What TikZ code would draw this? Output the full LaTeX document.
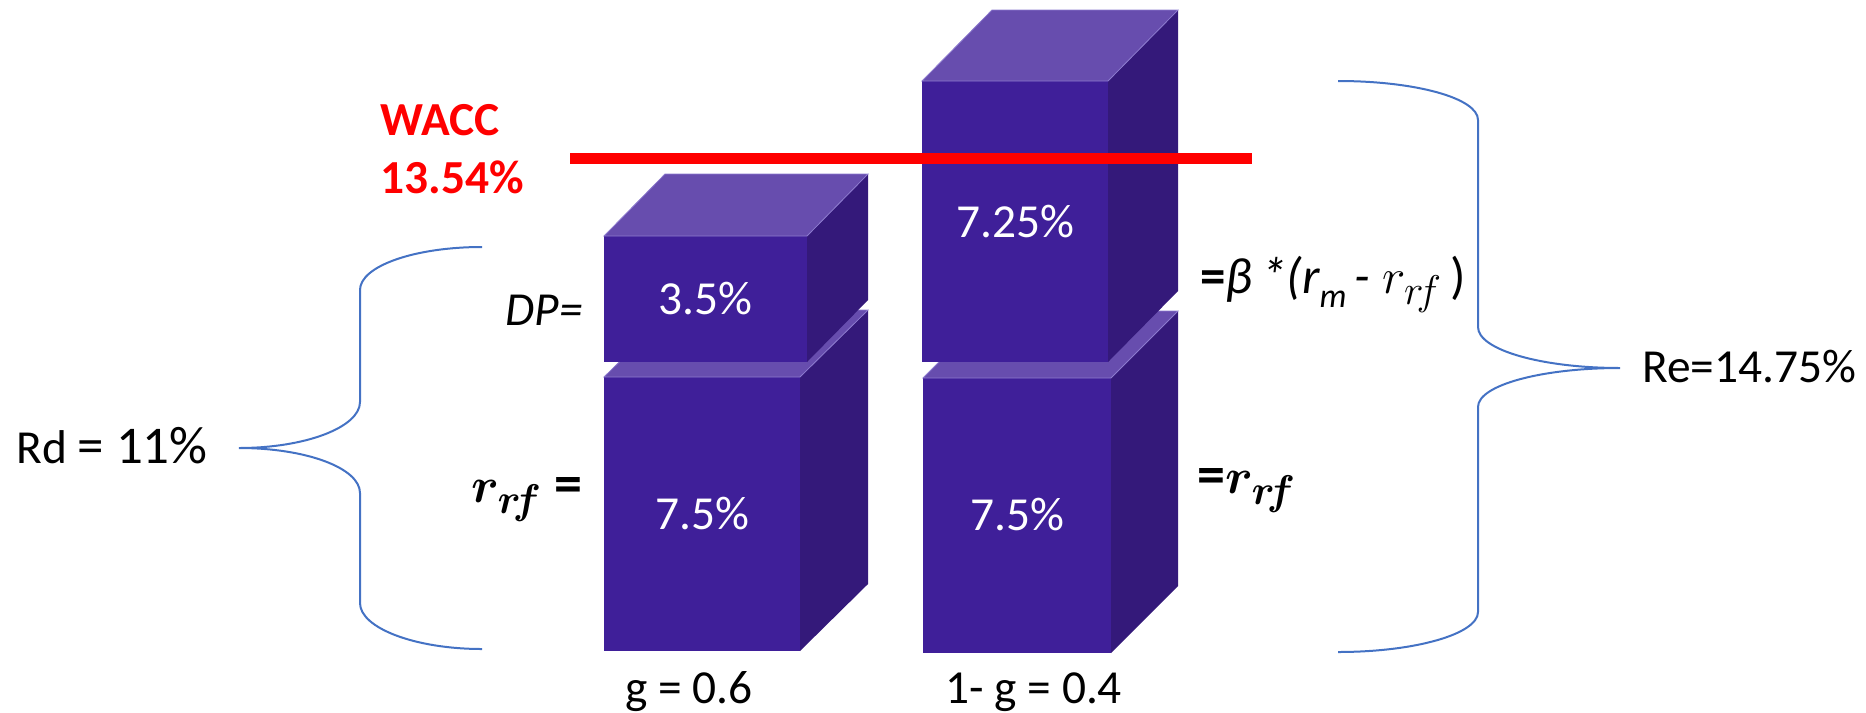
\documentclass[tikz,border=0pt]{standalone}
\usepackage{fontspec}
\setmainfont{Carlito}
\usepackage{bm}
\definecolor{cfront}{RGB}{63,31,153}
\definecolor{ctop}{RGB}{103,77,174}
\definecolor{cside}{RGB}{52,25,122}
\definecolor{cedge}{RGB}{140,122,206}
\definecolor{bracecol}{RGB}{68,114,196}
\newcommand\subtxt[1]{\raisebox{-0.28em}{\fontsize{17}{17}\selectfont #1}}
% x, y(top of front face), width, height, depth dx, depth dy
\newcommand\cubebox[6]{%
  \fill[cfront] (#1,#2) rectangle ++(#3,#4);
  \fill[cside] ({#1+#3},#2) -- ++(#5,-#6) -- ++(0,#4) -- ++(-#5,#6) -- cycle;
  \filldraw[fill=ctop,draw=cedge,line width=0.4pt] (#1,#2) -- ++(#5,-#6) -- ++(#3,0) -- ++(-#5,#6) -- cycle;
}
\tikzset{
  txt/.style={inner sep=0pt, font=\fontsize{23.7}{28}\selectfont},
  celltxt/.style={txt, text=white},
  wacc/.style={txt, text=red, font=\fontsize{23.7}{28}\selectfont\bfseries},
  bracestyle/.style={draw=bracecol, line width=1pt},
  redline/.style={draw=red, line width=5.5pt},
}
\begin{document}
\begin{tikzpicture}[x=0.5pt,y=-0.5pt]
\useasboundingbox (0,0) rectangle (1866,712);

% cubes (lower first)
\cubebox{604}{377}{196}{274}{68}{67}
\cubebox{923}{378}{188}{275}{67}{67}
\cubebox{604}{236}{203}{126}{61}{62}
\cubebox{922}{81}{186}{281}{70}{71}

\node[celltxt] (lu) at (705,299) {3.5\%};
\node[celltxt] (ll) at (702,514) {7.5\%};
\node[celltxt] (ru) at (1015,222) {7.25\%};
\node[celltxt] (rl) at (1017,515) {7.5\%};

% WACC line
\coordinate (wl) at (570,158);
\coordinate (wr) at (1252,158);
\draw[redline] (wl) -- (wr);
\node[wacc, anchor=base west] (wacc) at (380,135) {WACC};
\node[wacc, anchor=base west] (waccv) at (380,193) {13.54\%};

% left brace
\coordinate (ltop) at (482,247);
\coordinate (ltip) at (239,448);
\coordinate (lbot) at (482,649);
\draw[bracestyle] (ltop) .. controls (415,247) and (360,266) .. (360,290) -- (360,402)
  .. controls (360,427) and (306,448) .. (ltip)
  .. controls (306,448) and (360,468) .. (360,493) -- (360,603)
  .. controls (360,628) and (415,649) .. (lbot);
\node[txt, anchor=base west] (rd) at (16,463) {Rd {\fontsize{26.5}{30}\selectfont = 11\%}};

% right brace
\coordinate (rtop) at (1338,81);
\coordinate (rtip) at (1620,368);
\coordinate (rbot) at (1338,652);
\draw[bracestyle] (rtop) .. controls (1415,81) and (1478,98) .. (1478,120) -- (1478,327)
  .. controls (1478,350) and (1542,368) .. (rtip)
  .. controls (1542,368) and (1478,385) .. (1478,407) -- (1478,612)
  .. controls (1478,634) and (1415,652) .. (rbot);
\node[txt, anchor=base west] (re) at (1642,382) {Re=14.75\%};

% side labels
\node[txt, anchor=base east] (dp) at (583,325) {\itshape DP=};
\node[txt, anchor=base east] (rrf) at (583,502) {\fontsize{28}{30}\selectfont$\bm{r_{r\!f}}$\ {\bfseries =}};
\node[txt, anchor=base west] (erf) at (1197,493) {\fontsize{28}{30}\selectfont{\bfseries =}$\bm{r_{r\!f}}$};
\node[txt, anchor=base west] (beta) at (1200,293) {\fontsize{25.5}{30}\selectfont{\bfseries =}{\itshape β\,*(r}\subtxt{\itshape m}{\itshape\,- }{\fontsize{28}{30}\selectfont$r_{r\!f}$}\,)};

% bottom labels
\node[txt, anchor=base west] (g1) at (625,703) {g = 0.6};
\node[txt, anchor=base west] (g2) at (945,703) {1- g = 0.4};
\end{tikzpicture}
\end{document}
